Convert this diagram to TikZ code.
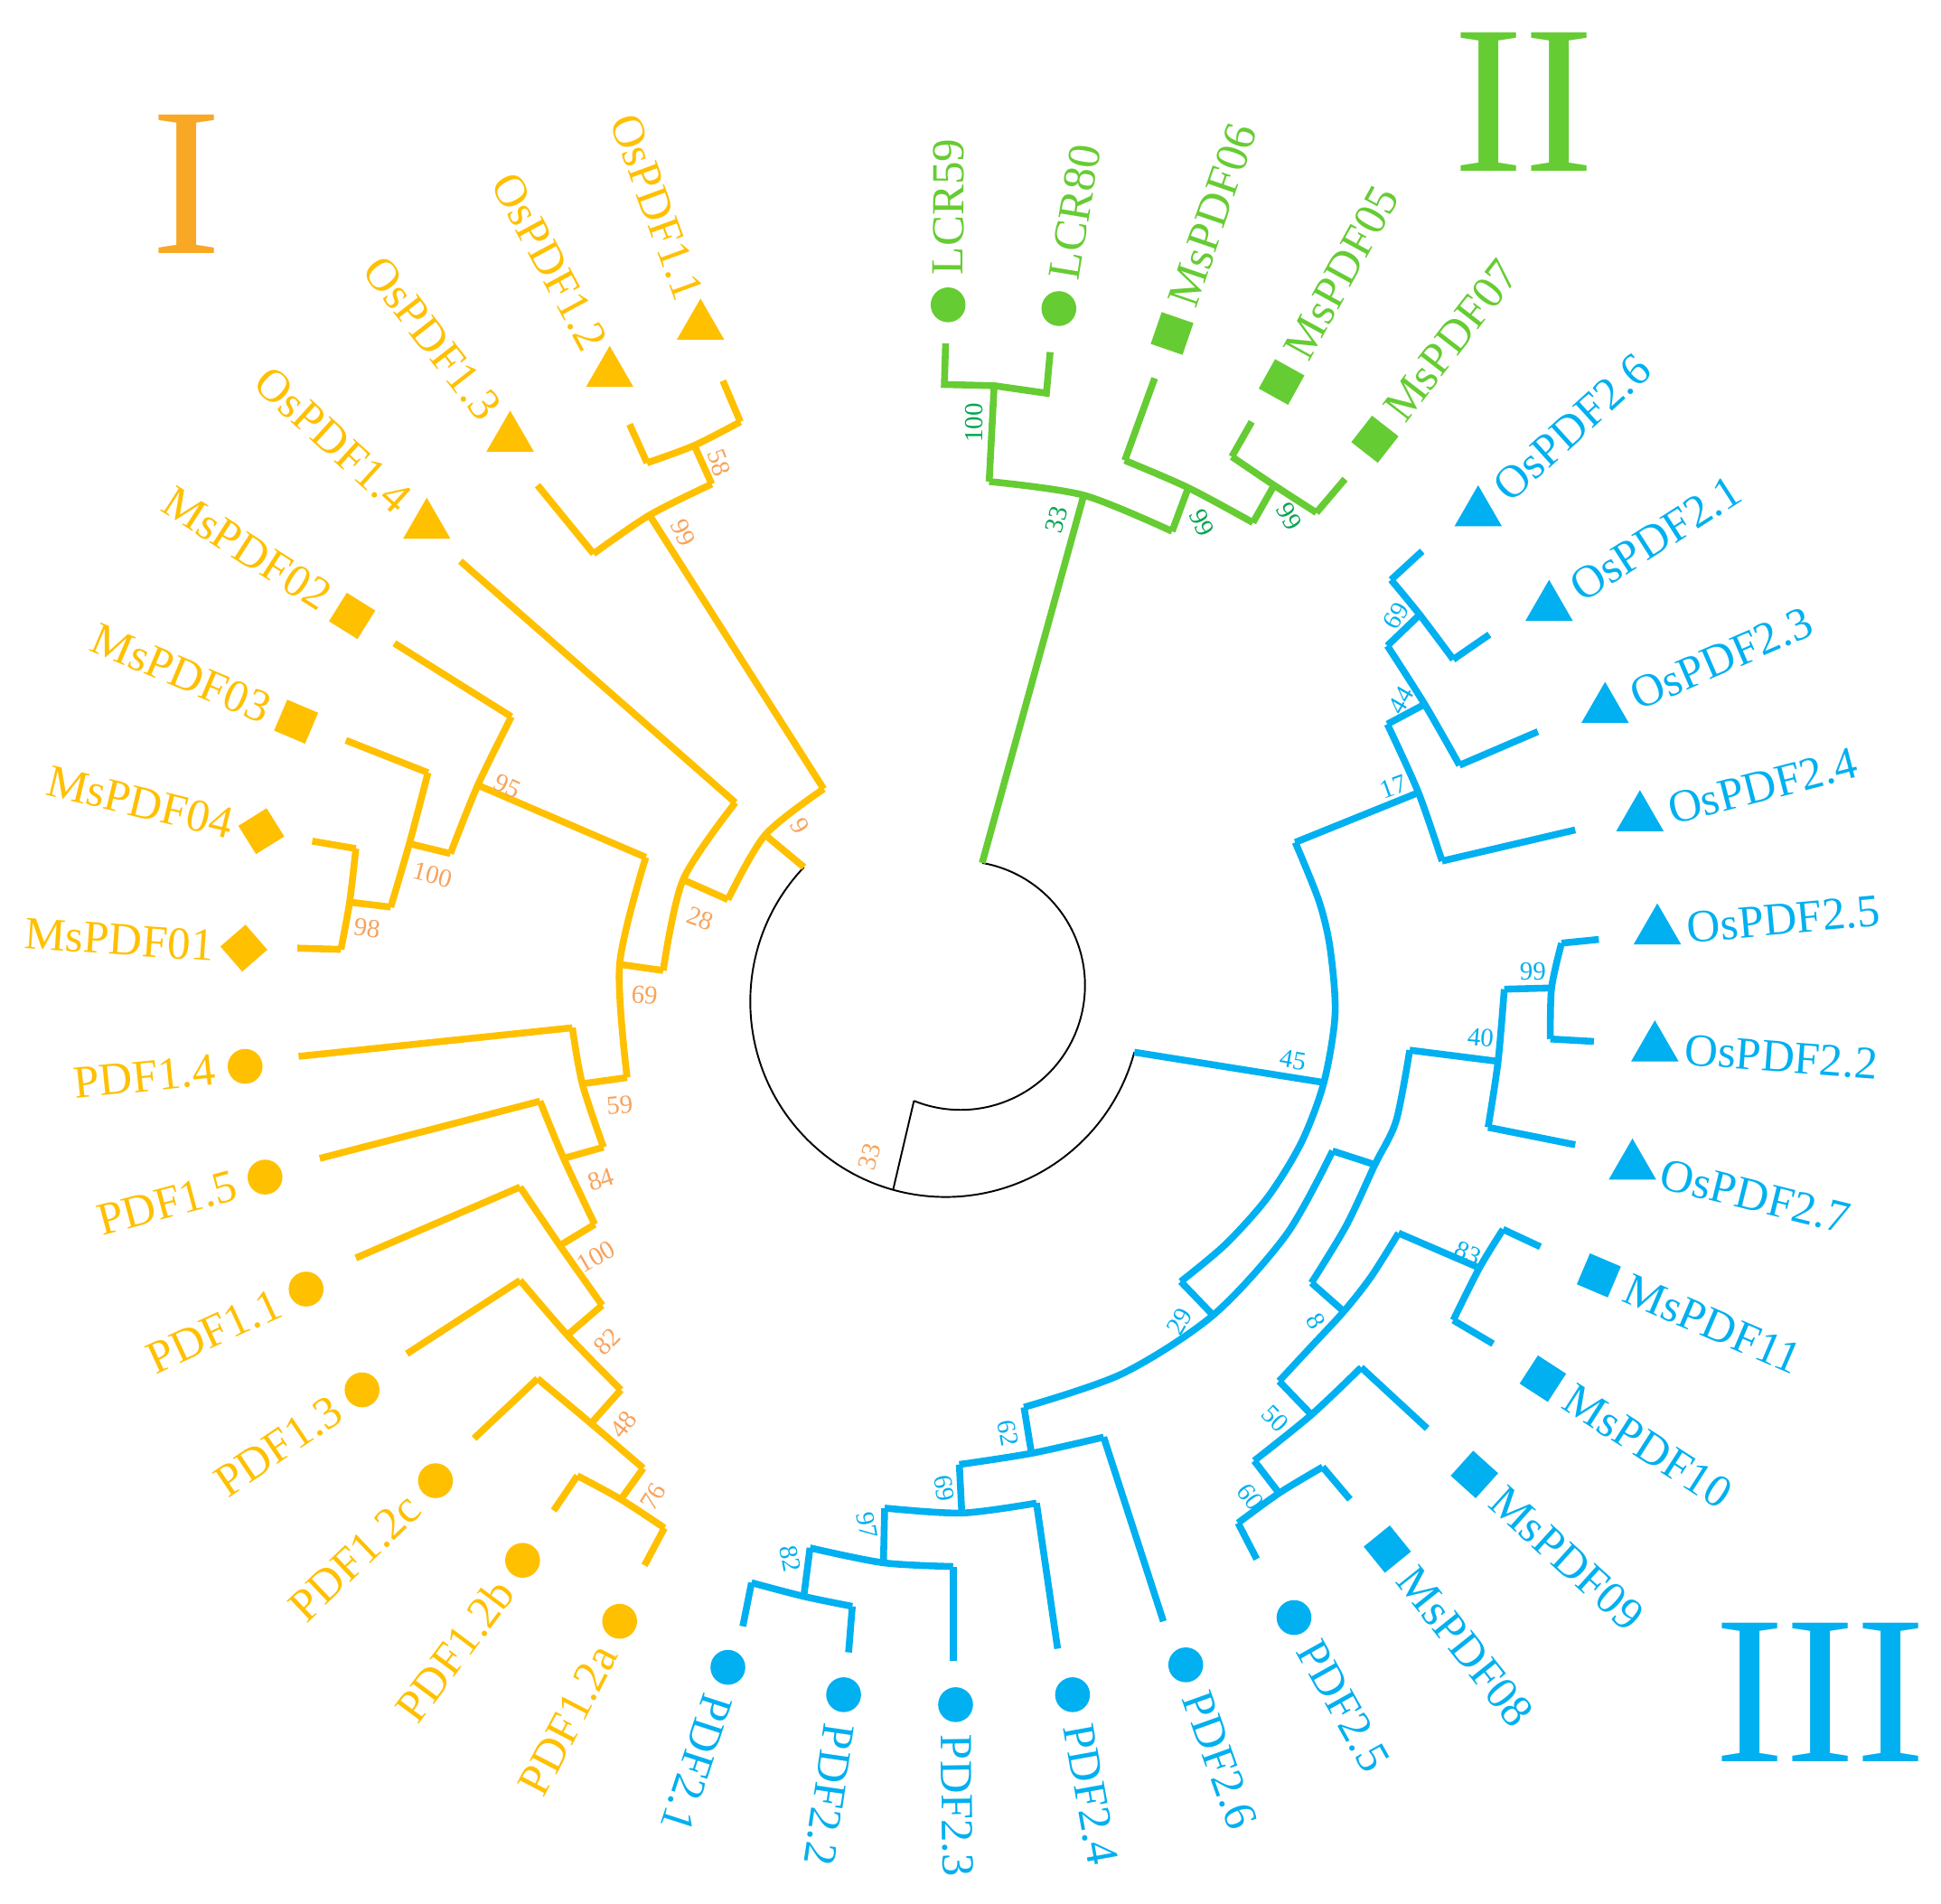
\documentclass[tikz,border=0pt]{standalone}
\usepackage{fontspec}
\setmainfont{Liberation Serif}
\usetikzlibrary{shapes.geometric,calc}
\definecolor{cO}{HTML}{FFC000}
\definecolor{cOt}{HTML}{F7A35C}
\definecolor{cG}{HTML}{66CC33}
\definecolor{cGt}{HTML}{00A650}
\definecolor{cB}{HTML}{00B0F0}
\definecolor{cI}{HTML}{F9A825}
\newcommand\cc{cO}
\newcommand\lf[7]{%
  \node[#6, fill=\cc] (#1) at (#2,#3) {};
  \if l#7\node[lab, anchor=east, rotate={#4+180}] at ($(#1)+({-(#4)}:24)$) {#5};%
  \else\node[lab, anchor=west, rotate={#4}] at ($(#1)+({-(#4)}:24)$) {#5};\fi}
\newcommand\sv[4]{\node[svs, rotate=#3] at (#1,#2) {#4};}
\begin{document}
\begin{tikzpicture}[x=1pt,y=-1pt,
  br/.style={line width=5.5pt, line join=miter, line cap=butt},
  lab/.style={text=\cc, inner sep=0pt, font=\fontsize{37}{40}\selectfont},
  svs/.style={inner sep=0pt, font=\fontsize{21}{22}\selectfont},
  tri/.style={regular polygon, regular polygon sides=3, minimum size=44, inner sep=0pt},
  sq/.style={rectangle, minimum size=27, inner sep=0pt},
  dia/.style={diamond, minimum size=38, inner sep=0pt},
  cir/.style={circle, minimum size=28, inner sep=0pt},
  roman/.style={inner sep=0pt, font=\fontsize{170}{170}\selectfont}]
\useasboundingbox (0,0) rectangle (1560,1530);
\fill[white] (0,0) rectangle (1560,1530);
% ---- root (black)
\coordinate (c1) at (760,805);
\coordinate (c2) at (772,792);
\coordinate (oA) at ($(c1)+(223.5:157)$);
\coordinate (oB) at ($(c1)+(15:157)$);
\coordinate (rt) at ($(c1)+(105.6:157)$);
\coordinate (iA) at ($(c2)+(-80:100)$);
\coordinate (iB) at ($(c2)+(112:100)$);
\draw[line width=1.4pt] (oA) arc[start angle=223.5, end angle=15, radius=157];
\draw[line width=1.4pt] (iA) arc[start angle=-80, end angle=112, radius=100];
\draw[line width=1.4pt] (rt) -- (iB);
\node[svs, text=cOt, rotate=75] at (699,930) {33};
% ---- clade I (orange)
\begin{scope}[cO, br]
\draw (oA) -- (615,671);
\draw plot[smooth] coordinates {(662,634) (615,671) (585,723)};
\draw (662,634) -- (522,414);
\draw plot[smooth] coordinates {(477,445) (522,414) (572,389)};
\draw (477,445) -- (432,390);
\draw (572,389) -- (558,358);
\draw plot[smooth] coordinates {(520,372) (558,358) (595,339)};
\draw (520,372) -- (506,341);
\draw (595,339) -- (581,306);
\draw (585,723) -- (549,707);
\draw plot[smooth] coordinates {(591,645) (549,707) (533,780)};
\draw (591,645) -- (370,451);
\draw (533,780) -- (498,775);
\draw plot[smooth] coordinates {(519,689) (498,775) (504,866)};
\draw (519,689) -- (384,631);
\draw (504,866) -- (468,871);
\draw plot[smooth] coordinates {(411,576) (384,631) (362,686)};
\draw (411,576) -- (317,517);
\draw (362,686) -- (329,678);
\draw plot[smooth] coordinates {(344,621) (329,678) (314,729)};
\draw (344,621) -- (278,595);
\draw (314,729) -- (281,725);
\draw plot[smooth] coordinates {(286,682) (281,725) (274,763)};
\draw (286,682) -- (251,676);
\draw (274,763) -- (239,762);
\draw plot[smooth] coordinates {(460,826) (468,871) (485,922)};
\draw (460,826) -- (240,849);
\draw (485,922) -- (453,931);
\draw plot[smooth] coordinates {(434,885) (453,931) (478,984)};
\draw (434,885) -- (257,931);
\draw (478,984) -- (450,1001);
\draw plot[smooth] coordinates {(418,954) (450,1001) (484,1049)};
\draw (418,954) -- (286,1011);
\draw (484,1049) -- (456,1073);
\draw plot[smooth] coordinates {(418,1029) (456,1073) (499,1117)};
\draw (418,1029) -- (327,1088);
\draw (499,1117) -- (475,1144);
\draw plot[smooth] coordinates {(432,1108) (475,1144) (517,1180)};
\draw (432,1108) -- (381,1156);
\draw (517,1180) -- (499,1205);
\draw plot[smooth] coordinates {(464,1186) (499,1205) (534,1228)};
\draw (464,1186) -- (445,1214);
\draw (534,1228) -- (518,1258);
\end{scope}
\begin{scope}[text=cOt]
\sv{578}{372}{-70}{58}
\sv{549}{428}{-65}{99}
\sv{643}{664}{-60}{9}
\sv{563}{738}{-20}{28}
\sv{518}{800}{-5}{69}
\sv{408}{632}{-25}{95}
\sv{348}{703}{-15}{100}
\sv{295}{746}{-8}{98}
\sv{498}{888}{5}{59}
\sv{483}{948}{18}{84}
\sv{479}{1010}{30}{100}
\sv{488}{1078}{45}{82}
\sv{501}{1145}{52}{48}
\sv{525}{1203}{58}{76}
\end{scope}
\renewcommand\cc{cO}
\lf{o11}{563}{262}{110.1}{OsPDF1.1}{tri}{l}
\lf{o12}{490}{300}{118.4}{OsPDF1.2}{tri}{l}
\lf{o13}{410}{352}{128}{OsPDF1.3}{tri}{l}
\lf{o14}{343}{422}{137.8}{OsPDF1.4}{tri}{l}
\lf{m02}{283}{495}{147.4}{MsPDF02}{sq,rotate=-32}{l}
\lf{m03}{238}{580}{157.1}{MsPDF03}{sq,rotate=-23}{l}
\lf{m04}{210}{668}{166.5}{MsPDF04}{dia,rotate=-13}{l}
\lf{m01}{196}{762}{176.1}{MsPDF01}{dia,rotate=-4}{l}
\lf{p14}{197}{857}{185.8}{PDF1.4}{cir}{l}
\lf{p15}{213}{946}{195}{PDF1.5}{cir}{l}
\lf{p11}{246}{1036}{204.7}{PDF1.1}{cir}{l}
\lf{p13}{291}{1117}{214}{PDF1.3}{cir}{l}
\lf{p12c}{350}{1190}{223.6}{PDF1.2c}{cir}{l}
\lf{p12b}{420}{1254}{233.2}{PDF1.2b}{cir}{l}
\lf{p12a}{498}{1303}{242.5}{PDF1.2a}{cir}{l}
% ---- clade II (green)
\begin{scope}[cG, br]
\draw (iA) -- (871,398);
\draw plot[smooth] coordinates {(795,387) (871,398) (942,427)};
\draw (795,387) -- (799,310);
\draw (760,276) -- (759,309) -- (799,310) -- (841,316) -- (844,283);
\draw (942,427) -- (955,392);
\draw plot[smooth] coordinates {(904,370) (955,392) (1007,420)};
\draw (904,370) -- (928,304);
\draw (1007,420) -- (1024,390);
\draw plot[smooth] coordinates {(990,367) (1024,390) (1058,412)};
\draw (990,367) -- (1006,339);
\draw (1058,412) -- (1081,385);
\end{scope}
\begin{scope}[text=cGt]
\sv{783}{340}{90}{100}
\sv{849}{418}{75}{33}
\sv{966}{420}{-65}{99}
\sv{1036}{415}{-60}{99}
\end{scope}
\renewcommand\cc{cG}
\lf{l59}{762}{245}{89.8}{LCR59}{cir}{r}
\lf{l80}{851}{248}{80.6}{LCR80}{cir}{r}
\lf{m06}{942}{268}{71.1}{MsPDF06}{sq,rotate=71}{r}
\lf{m05}{1030}{307}{61.3}{MsPDF05}{sq,rotate=61}{r}
\lf{m07}{1105}{353}{52.3}{MsPDF07}{sq,rotate=52}{r}
% ---- clade III (blue)
\begin{scope}[cB, br]
\draw (oB) -- (1064,870);
% node 45 arc
\draw plot[smooth] coordinates {(1041,677) (1060,724) (1069,762) (1073,815) (1064,870) (1046,918) (1019,962) (985,1000) (949,1030)};
\draw (949,1030) -- (975,1057);
% node 29 arc
\draw plot[smooth] coordinates {(1071,925) (1034,992) (975,1057) (902,1104) (823,1131)};
\draw (1041,677) -- (1140,637);
\draw plot[smooth] coordinates {(1115,582) (1140,637) (1159,692)};
\draw (1159,692) -- (1266,667);
\draw (1115,582) -- (1145,566);
\draw plot[smooth] coordinates {(1115,519) (1145,566) (1173,615)};
\draw (1173,615) -- (1236,588);
\draw (1115,519) -- (1141,494);
\draw plot[smooth] coordinates {(1118,466) (1141,494) (1168,530)};
\draw (1118,466) -- (1143,443);
\draw (1168,530) -- (1197,510);
\draw (1071,925) -- (1105,936);
\draw plot[smooth] coordinates {(1133,844) (1122,901) (1105,936) (1082,985) (1054,1031)};
\draw (1133,844) -- (1204,853);
\draw plot[smooth] coordinates {(1209,795) (1204,853) (1196,906)};
\draw (1196,906) -- (1266,920);
\draw (1209,795) -- (1247,794);
\draw plot[smooth] coordinates {(1255,758) (1247,794) (1246,835)};
\draw (1255,758) -- (1285,755);
\draw (1246,835) -- (1281,837);
\draw (1054,1031) -- (1080,1054);
\draw plot[smooth] coordinates {(1124,991) (1102,1026) (1080,1054) (1054,1082) (1028,1110)};
\draw (1124,991) -- (1189,1019);
\draw plot[smooth] coordinates {(1208,988) (1189,1019) (1168,1061)};
\draw (1208,988) -- (1238,1002);
\draw (1168,1061) -- (1200,1080);
\draw (1028,1110) -- (1054,1137);
\draw plot[smooth] coordinates {(1094,1099) (1054,1137) (1008,1174)};
\draw (1094,1099) -- (1147,1148);
\draw (1008,1174) -- (1028,1200);
\draw plot[smooth] coordinates {(1063,1179) (1028,1200) (995,1224)};
\draw (1063,1179) -- (1085,1205);
\draw (995,1224) -- (1010,1253);
\draw (823,1131) -- (829,1168);
\draw plot[smooth] coordinates {(771,1177) (829,1168) (887,1155)};
\draw (887,1155) -- (935,1303);
\draw (771,1177) -- (773,1216);
\draw plot[smooth] coordinates {(711,1212) (773,1216) (833,1208)};
\draw (833,1208) -- (850,1325);
\draw (711,1212) -- (710,1256);
\draw plot[smooth] coordinates {(651,1244) (710,1256) (766,1259)};
\draw (766,1259) -- (766,1335);
\draw (651,1244) -- (646,1283);
\draw plot[smooth] coordinates {(604,1272) (646,1283) (685,1291)};
\draw (604,1272) -- (597,1307);
\draw (685,1291) -- (682,1328);
\end{scope}
\begin{scope}[text=cB]
\sv{1122}{495}{60}{69}
\sv{1126}{563}{60}{44}
\sv{1120}{632}{20}{17}
\sv{1039}{852}{-10}{45}
\sv{1232}{781}{0}{99}
\sv{1190}{834}{-5}{40}
\sv{1180}{1007}{-25}{83}
\sv{1058}{1062}{-60}{8}
\sv{948}{1062}{60}{29}
\sv{1025}{1140}{-45}{50}
\sv{1005}{1203}{-55}{60}
\sv{810}{1152}{-80}{62}
\sv{759}{1196}{-80}{69}
\sv{697}{1226}{-80}{97}
\sv{635}{1253}{-80}{82}
\end{scope}
\renewcommand\cc{cB}
\lf{o26}{1188}{412}{42.2}{OsPDF2.6}{tri}{r}
\lf{o21}{1245}{488}{32.7}{OsPDF2.1}{tri}{r}
\lf{o23}{1290}{570}{23.5}{OsPDF2.3}{tri}{r}
\lf{o24}{1318}{657}{14.4}{OsPDF2.4}{tri}{r}
\lf{o25}{1332}{748}{5.2}{OsPDF2.5}{tri}{r}
\lf{o22}{1330}{842}{-4.2}{OsPDF2.2}{tri}{r}
\lf{o27}{1312}{937}{-13.9}{OsPDF2.7}{tri}{r}
\lf{m11}{1285}{1025}{-23.2}{MsPDF11}{sq,rotate=-23}{r}
\lf{m10}{1240}{1108}{-32.7}{MsPDF10}{sq,rotate=-33}{r}
\lf{m09}{1185}{1185}{-42.2}{MsPDF09}{sq,rotate=-42}{r}
\lf{m08}{1115}{1245}{-51.4}{MsPDF08}{sq,rotate=-51}{r}
\lf{p25}{1040}{1300}{-60.8}{PDF2.5}{cir}{r}
\lf{p26}{953}{1338}{-70.3}{PDF2.6}{cir}{r}
\lf{p24}{862}{1362}{-79.7}{PDF2.4}{cir}{r}
\lf{p23}{768}{1370}{-89.2}{PDF2.3}{cir}{r}
\lf{p22}{678}{1362}{-98.3}{PDF2.2}{cir}{r}
\lf{p21}{585}{1340}{-108}{PDF2.1}{cir}{r}
% ---- clade numerals
\node[roman, text=cI] (nI) at (150,148) {I};
\node[roman, text=cG] (nII) at (1225,82) {II};
\node[roman, text=cB] (nIII) at (1463,1360) {III};
\end{tikzpicture}
\end{document}
